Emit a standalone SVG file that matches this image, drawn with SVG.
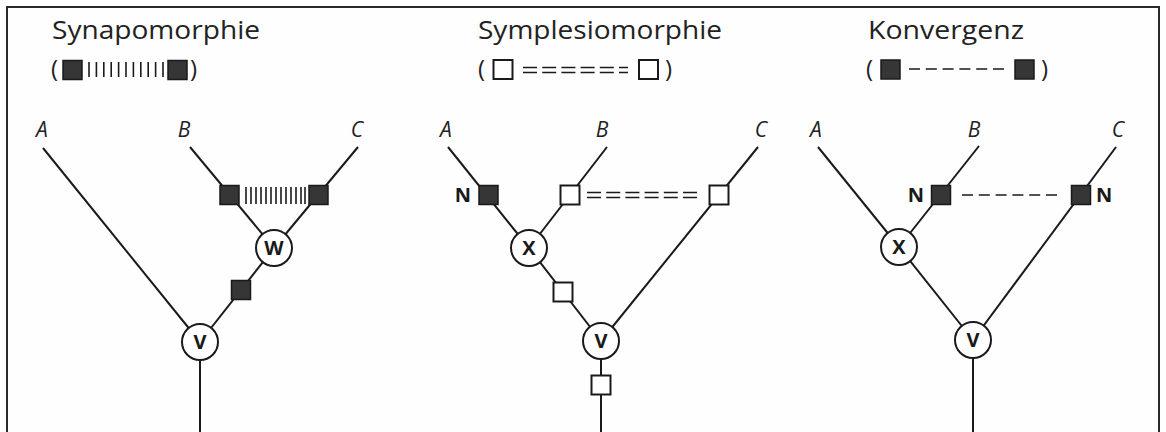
<svg xmlns="http://www.w3.org/2000/svg" width="1166" height="432" viewBox="0 0 1166 432">
  <style>
    .frame { fill: none; stroke: #2a2a2a; stroke-width: 2; }
    .edge { fill: none; stroke: #1a1a1a; stroke-width: 2; }
    .title { font-family: "Open Sans", "Liberation Sans", sans-serif; font-size: 25px; fill: #222; }
    .paren { font-family: "Open Sans", "Liberation Sans", sans-serif; font-size: 24px; fill: #222; }
    .taxon { font-family: "Open Sans", "Liberation Sans", sans-serif; font-size: 21px; font-style: italic; fill: #222; text-anchor: middle; }
    .node-label { font-family: "Open Sans", "Liberation Sans", sans-serif; font-size: 20px; font-weight: bold; fill: #1a1a1a; text-anchor: middle; }
    .n-label { font-family: "Open Sans", "Liberation Sans", sans-serif; font-size: 20px; font-weight: bold; fill: #1a1a1a; }
    .node { fill: #fff; stroke: #1a1a1a; stroke-width: 2; }
    .apo { fill: #363636; stroke: #1a1a1a; stroke-width: 1.5; }
    .plesio { fill: #fff; stroke: #1a1a1a; stroke-width: 2; }
    .hatch { stroke: #1a1a1a; stroke-width: 1.6; }
    .double { stroke: #1a1a1a; stroke-width: 1.6; stroke-dasharray: 14 5.2; fill: none; }
    .dash { stroke: #1a1a1a; stroke-width: 1.6; stroke-dasharray: 11 5.8; fill: none; }
  </style>
  <defs>
    <rect id="sq" x="-9.5" y="-9.5" width="19" height="19"/>
  </defs>

  <rect width="1166" height="432" fill="#fefefe"/>

  <!-- frame: open at the bottom -->
  <path class="frame" d="M7 432 V7 H1159 V432"/>

  <!-- headings and legends -->
  <g id="legend-synapomorphie">
    <text class="title" x="52" y="39" textLength="208" lengthAdjust="spacingAndGlyphs">Synapomorphie</text>
    <text class="paren" x="51" y="77">(</text>
    <use href="#sq" class="apo" x="72.5" y="70"/>
    <g class="hatch">
      <line x1="89" y1="62" x2="89" y2="77"/><line x1="96.4" y1="62" x2="96.4" y2="77"/>
      <line x1="103.8" y1="62" x2="103.8" y2="77"/><line x1="111.2" y1="62" x2="111.2" y2="77"/>
      <line x1="118.6" y1="62" x2="118.6" y2="77"/><line x1="126" y1="62" x2="126" y2="77"/>
      <line x1="133.4" y1="62" x2="133.4" y2="77"/><line x1="140.8" y1="62" x2="140.8" y2="77"/>
      <line x1="148.2" y1="62" x2="148.2" y2="77"/><line x1="155.6" y1="62" x2="155.6" y2="77"/>
      <line x1="163" y1="62" x2="163" y2="77"/>
    </g>
    <use href="#sq" class="apo" x="177.5" y="70"/>
    <text class="paren" x="190" y="77">)</text>
  </g>

  <g id="legend-symplesiomorphie">
    <text class="title" x="478" y="39" textLength="244" lengthAdjust="spacingAndGlyphs">Symplesiomorphie</text>
    <text class="paren" x="478" y="77">(</text>
    <use href="#sq" class="plesio" x="503" y="69.5"/>
    <line class="double" x1="523" y1="67.5" x2="628" y2="67.5"/>
    <line class="double" x1="523" y1="72.5" x2="628" y2="72.5"/>
    <use href="#sq" class="plesio" x="648.5" y="69.5"/>
    <text class="paren" x="665" y="77">)</text>
  </g>

  <g id="legend-konvergenz">
    <text class="title" x="868" y="39" textLength="156" lengthAdjust="spacingAndGlyphs">Konvergenz</text>
    <text class="paren" x="866" y="77">(</text>
    <use href="#sq" class="apo" x="890.5" y="69.5"/>
    <line class="dash" x1="909" y1="69" x2="1006" y2="69"/>
    <use href="#sq" class="apo" x="1024.5" y="69.5"/>
    <text class="paren" x="1041" y="77">)</text>
  </g>

  <!-- branches -->
  <g id="connectors" class="edge">
    <!-- tree 1 -->
    <line x1="43" y1="148" x2="200" y2="342"/>
    <line x1="190" y1="147" x2="274" y2="248"/>
    <line x1="358" y1="147" x2="274" y2="248"/>
    <line x1="274" y1="248" x2="200" y2="342"/>
    <line x1="200" y1="342" x2="200" y2="432"/>
    <!-- tree 2 -->
    <line x1="448" y1="147" x2="529" y2="248"/>
    <line x1="607" y1="147" x2="529" y2="248"/>
    <line x1="529" y1="248" x2="601" y2="341"/>
    <line x1="758" y1="147" x2="601" y2="341"/>
    <line x1="601" y1="341" x2="601" y2="432"/>
    <!-- tree 3 -->
    <line x1="818" y1="147" x2="899" y2="247"/>
    <line x1="979" y1="146" x2="899" y2="247"/>
    <line x1="899" y1="247" x2="973" y2="340"/>
    <line x1="1116" y1="147" x2="973" y2="340"/>
    <line x1="973" y1="340" x2="973" y2="432"/>
  </g>

  <!-- tree 1: Synapomorphie -->
  <g id="tree1-taxa">
    <text class="taxon" x="42" y="137">A</text>
    <text class="taxon" x="184" y="137">B</text>
    <text class="taxon" x="357" y="137">C</text>
  </g>
  <g id="tree1-characters">
    <use href="#sq" class="apo" x="229.5" y="195"/>
    <use href="#sq" class="apo" x="318.5" y="195"/>
    <g class="hatch">
      <line x1="246" y1="187" x2="246" y2="204"/><line x1="251" y1="187" x2="251" y2="204"/>
      <line x1="256" y1="187" x2="256" y2="204"/><line x1="261" y1="187" x2="261" y2="204"/>
      <line x1="266" y1="187" x2="266" y2="204"/><line x1="271" y1="187" x2="271" y2="204"/>
      <line x1="276" y1="187" x2="276" y2="204"/><line x1="281" y1="187" x2="281" y2="204"/>
      <line x1="286" y1="187" x2="286" y2="204"/><line x1="291" y1="187" x2="291" y2="204"/>
      <line x1="296" y1="187" x2="296" y2="204"/><line x1="301" y1="187" x2="301" y2="204"/>
      <line x1="305" y1="187" x2="305" y2="204"/>
    </g>
    <use href="#sq" class="apo" x="241" y="290"/>
  </g>
  <g id="tree1-node-W">
    <circle class="node" cx="274" cy="248" r="18"/>
    <text class="node-label" x="274" y="255">W</text>
  </g>
  <g id="tree1-node-V">
    <circle class="node" cx="200" cy="342" r="18"/>
    <text class="node-label" x="200" y="349">V</text>
  </g>

  <!-- tree 2: Symplesiomorphie -->
  <g id="tree2-taxa">
    <text class="taxon" x="446" y="137">A</text>
    <text class="taxon" x="602" y="137">B</text>
    <text class="taxon" x="761" y="137">C</text>
  </g>
  <g id="tree2-characters">
    <text class="n-label" x="471" y="202" text-anchor="end">N</text>
    <use href="#sq" class="apo" x="488.5" y="195"/>
    <use href="#sq" class="plesio" x="570" y="195"/>
    <line class="double" x1="587" y1="192.5" x2="697" y2="192.5"/>
    <line class="double" x1="587" y1="197.5" x2="697" y2="197.5"/>
    <use href="#sq" class="plesio" x="719" y="195"/>
    <use href="#sq" class="plesio" x="563" y="292"/>
    <use href="#sq" class="plesio" x="601" y="385"/>
  </g>
  <g id="tree2-node-X">
    <circle class="node" cx="529" cy="248" r="18"/>
    <text class="node-label" x="529" y="255">X</text>
  </g>
  <g id="tree2-node-V">
    <circle class="node" cx="601" cy="341" r="18"/>
    <text class="node-label" x="601" y="348">V</text>
  </g>

  <!-- tree 3: Konvergenz -->
  <g id="tree3-taxa">
    <text class="taxon" x="816" y="137">A</text>
    <text class="taxon" x="974" y="137">B</text>
    <text class="taxon" x="1118" y="137">C</text>
  </g>
  <g id="tree3-characters">
    <text class="n-label" x="924" y="202" text-anchor="end">N</text>
    <use href="#sq" class="apo" x="941" y="195"/>
    <line class="dash" x1="962" y1="195" x2="1057" y2="195"/>
    <use href="#sq" class="apo" x="1081" y="195"/>
    <text class="n-label" x="1096" y="202">N</text>
  </g>
  <g id="tree3-node-X">
    <circle class="node" cx="899" cy="247" r="18"/>
    <text class="node-label" x="899" y="254">X</text>
  </g>
  <g id="tree3-node-V">
    <circle class="node" cx="973" cy="340" r="18"/>
    <text class="node-label" x="973" y="347">V</text>
  </g>
</svg>
